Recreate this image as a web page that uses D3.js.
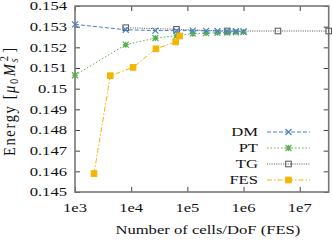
<!DOCTYPE html>
<html>
<head>
<meta charset="utf-8">
<style>
  body { margin: 0; background: #fff; }
</style>
</head>
<body>
<svg width="332" height="240" font-family="'Liberation Serif', 'Times New Roman', serif"></svg>
<script src="https://d3js.org/d3.v7.min.js"></script>
<script>

// data
var dmN  = [1e3, 8e3, 27e3, 64e3, 125e3, 216e3, 343e3, 512e3, 729e3, 1e6];
var dmE  = [0.15311, 0.15285, 0.15281, 0.15281, 0.15281, 0.15280, 0.15279, 0.15278, 0.15278, 0.15277];
var ptN  = [1e3, 8e3, 27e3, 64e3, 125e3, 216e3, 343e3, 512e3, 729e3, 1e6];
var ptE  = [0.15065, 0.15213, 0.15245, 0.15256, 0.15266, 0.15269, 0.15270, 0.15272, 0.15273, 0.15274];
var tgN  = [8e3, 64e3, 512e3, 4096e3, 32768e3];
var tgE  = [0.15295, 0.15287, 0.15279, 0.15279, 0.15279];
var fesN = [2180, 4250, 10800, 27600, 62000, 73000];
var fesE = [0.14589, 0.15063, 0.15103, 0.15193, 0.15226, 0.15255];

var xTicks = [1e3, 1e4, 1e5, 1e6, 1e7];
var xTickLabels = ["1e3", "1e4", "1e5", "1e6", "1e7"];
var yTicks = [0.145, 0.146, 0.147, 0.148, 0.149, 0.15, 0.151, 0.152, 0.153, 0.154];
var yTickLabels = ["0.145", "0.146", "0.147", "0.148", "0.149", "0.15", "0.151", "0.152", "0.153", "0.154"];

var seriesNames = ["DM", "PT", "TG", "FES"];

var svg = d3.select("svg");
var pLeft = 75, pRight = 328.7, pTop = 6, pBottom = 192;
var sx = 1.33; // the reference text is stretched sideways

var x = d3.scaleLog().domain([1e3, 32768e3]).range([pLeft, pRight]);
var y = d3.scaleLinear().domain([0.145, 0.154]).range([pBottom, pTop]);

//put a text with the sideways stretch
function label(px, py, txt, anchor) {
  return svg.append("text")
    .attr("transform", "translate(" + px + "," + py + ") scale(" + sx + ",1)")
    .attr("text-anchor", anchor)
    .attr("font-size", 12.5)
    .attr("fill", "#111")
    .text(txt);
}

//ticks on all four sides, pointing in
function ticks(axis, tr) {
  var g = svg.append("g").attr("transform", tr)
    .call(axis.tickSizeOuter(0).tickFormat(""));
  g.select(".domain").remove();
  g.selectAll(".tick line").attr("stroke", "#444").attr("stroke-width", 1);
}
ticks(d3.axisBottom(x).tickValues(xTicks).tickSizeInner(-5), "translate(0," + pBottom + ")");
ticks(d3.axisTop(x).tickValues(xTicks).tickSizeInner(-5), "translate(0," + pTop + ")");
ticks(d3.axisLeft(y).tickValues(yTicks).tickSizeInner(-5), "translate(" + pLeft + ",0)");
ticks(d3.axisRight(y).tickValues(yTicks).tickSizeInner(-5), "translate(" + pRight + ",0)");

//frame
svg.append("rect")
  .attr("x", pLeft).attr("y", pTop)
  .attr("width", pRight - pLeft).attr("height", pBottom - pTop)
  .attr("fill", "none").attr("stroke", "#777").attr("stroke-width", 1.6);

//tick labels
xTicks.forEach(function(t, i) { label(x(t), 212, xTickLabels[i], "middle"); });
yTicks.forEach(function(t, i) { label(67, y(t) + 4.3, yTickLabels[i], "end"); });

//axis titles
label((pLeft + pRight) / 2 + 6, 234, "Number of cells/DoF (FES)", "middle");

var yl = svg.append("text")
  .attr("transform", "translate(14.5,102) scale(1.2,1) rotate(-90)")
  .attr("text-anchor", "middle")
  .attr("fill", "#111")
  .attr("font-size", 14.5)
  .attr("textLength", 108)
  .attr("lengthAdjust", "spacing");
yl.append("tspan").text("Energy [");
yl.append("tspan").attr("font-style", "italic").text("μ");
yl.append("tspan").attr("font-size", 10.5).attr("dy", 2.5).text("0");
yl.append("tspan").attr("font-style", "italic").attr("dy", -2.5).attr("dx", 1).text("M");
yl.append("tspan").attr("font-style", "italic").attr("font-size", 10.5).attr("dy", 3).text("s");
yl.append("tspan").attr("font-size", 10.5).attr("dy", -8.5).attr("dx", -4.5).text("2");
yl.append("tspan").attr("dy", 5.5).attr("dx", 1.5).text("]");

//series styles
var styles = {
  DM:  { color: "#4d80c4", dash: "4,2",      mark: "cross" },
  PT:  { color: "#5cae4c", dash: "1.5,2",    mark: "star" },
  TG:  { color: "#555555", dash: "1,1.3",    mark: "box" },
  FES: { color: "#f5b400", dash: "5,2,1.5,2", mark: "fbox" }
};
var data = {
  DM:  d3.zip(dmN, dmE),
  PT:  d3.zip(ptN, ptE),
  TG:  d3.zip(tgN, tgE),
  FES: d3.zip(fesN, fesE)
};

function marker(g, name, px, py) {
  var c = styles[name].color, m = styles[name].mark, r = 3;
  if (m == "cross" || m == "star") {
    var p = "M" + (px - r) + "," + (py - r) + "L" + (px + r) + "," + (py + r) +
            "M" + (px - r) + "," + (py + r) + "L" + (px + r) + "," + (py - r);
    if (m == "star") p += "M" + (px - r) + "," + py + "L" + (px + r) + "," + py +
                          "M" + px + "," + (py - r) + "L" + px + "," + (py + r);
    g.append("path").attr("d", p).attr("stroke", c).attr("stroke-width", 1.2).attr("fill", "none");
  } else {
    g.append("rect")
      .attr("x", px - 2.8).attr("y", py - 2.8).attr("width", 5.6).attr("height", 5.6)
      .attr("fill", m == "fbox" ? c : "none")
      .attr("stroke", c).attr("stroke-width", 1);
  }
}

var line = d3.line().x(function(d) { return x(d[0]); }).y(function(d) { return y(d[1]); });

["TG", "PT", "DM", "FES"].forEach(function(name) {
  var g = svg.append("g");
  g.append("path")
    .datum(data[name])
    .attr("d", line)
    .attr("fill", "none")
    .attr("stroke", styles[name].color)
    .attr("stroke-width", 1)
    .attr("stroke-dasharray", styles[name].dash);
  data[name].forEach(function(d) { marker(g, name, x(d[0]), y(d[1])); });
});

//legend
seriesNames.forEach(function(name, i) {
  var ly = 132 + i * 16;
  label(258, ly + 4.3, name, "end");
  var g = svg.append("g");
  g.append("line")
    .attr("x1", 267).attr("x2", 310).attr("y1", ly).attr("y2", ly)
    .attr("stroke", styles[name].color)
    .attr("stroke-width", 1)
    .attr("stroke-dasharray", styles[name].dash);
  marker(g, name, 288.5, ly);
});

</script>
</body>
</html>
